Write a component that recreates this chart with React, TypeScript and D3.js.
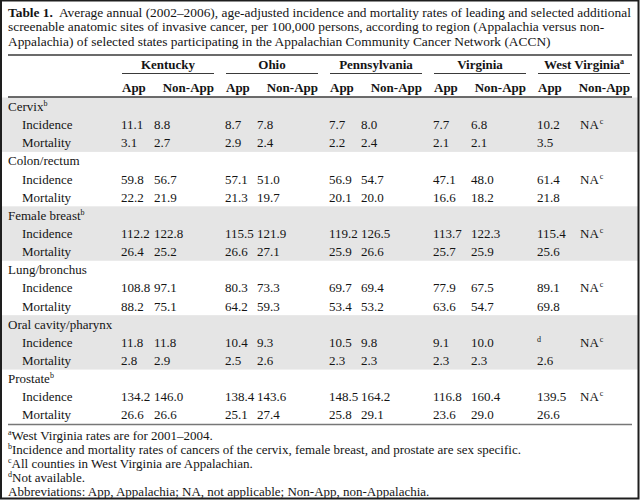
import React from "react";
import * as d3 from "d3";

const titleLines = [
  "Average annual (2002\u20132006), age-adjusted incidence and mortality rates of leading and selected additional",
  "screenable anatomic sites of invasive cancer, per 100,000 persons, according to region (Appalachia versus non-",
  "Appalachia) of selected states participating in the Appalachian Community Cancer Network (ACCN)",
];
const states = ["Kentucky", "Ohio", "Pennsylvania", "Virginia", "West Virginia"];
const stateNotes = ["", "", "", "", "a"];
const subHeads = ["App", "Non-App"];
const sites = ["Cervix", "Colon/rectum", "Female breast", "Lung/bronchus", "Oral cavity/pharynx", "Prostate"];
const siteNotes = ["b", "", "b", "", "", "b"];
const measures = ["Incidence", "Mortality"];

// values per site: [KY App, KY Non, OH App, OH Non, PA App, PA Non, VA App, VA Non, WV App, WV Non]
const incidence = [
  ["11.1", "8.8", "8.7", "7.8", "7.7", "8.0", "7.7", "6.8", "10.2", "NA|c"],
  ["59.8", "56.7", "57.1", "51.0", "56.9", "54.7", "47.1", "48.0", "61.4", "NA|c"],
  ["112.2", "122.8", "115.5", "121.9", "119.2", "126.5", "113.7", "122.3", "115.4", "NA|c"],
  ["108.8", "97.1", "80.3", "73.3", "69.7", "69.4", "77.9", "67.5", "89.1", "NA|c"],
  ["11.8", "11.8", "10.4", "9.3", "10.5", "9.8", "9.1", "10.0", "|d", "NA|c"],
  ["134.2", "146.0", "138.4", "143.6", "148.5", "164.2", "116.8", "160.4", "139.5", "NA|c"],
];
const mortality = [
  ["3.1", "2.7", "2.9", "2.4", "2.2", "2.4", "2.1", "2.1", "3.5", ""],
  ["22.2", "21.9", "21.3", "19.7", "20.1", "20.0", "16.6", "18.2", "21.8", ""],
  ["26.4", "25.2", "26.6", "27.1", "25.9", "26.6", "25.7", "25.9", "25.6", ""],
  ["88.2", "75.1", "64.2", "59.3", "53.4", "53.2", "63.6", "54.7", "69.8", ""],
  ["2.8", "2.9", "2.5", "2.6", "2.3", "2.3", "2.3", "2.3", "2.6", ""],
  ["26.6", "26.6", "25.1", "27.4", "25.8", "29.1", "23.6", "29.0", "26.6", ""],
];
const footnoteMarks = ["a", "b", "c", "d", ""];
const footnotes = [
  "West Virginia rates are for 2001\u20132004.",
  "Incidence and mortality rates of cancers of the cervix, female breast, and prostate are sex specific.",
  "All counties in West Virginia are Appalachian.",
  "Not available.",
  "Abbreviations: App, Appalachia; NA, not applicable; Non-App, non-Appalachia.",
];

const FONT = "'Liberation Serif', 'Times New Roman', serif";
const FS = 13;
const TFS = 13.4;
const INK = "#141414";
const BAND = "#e5e5e5";
const RULE = "#3a3a3a";
const nonAppOffsets = [32, 31, 31, 37, 42];

function Cell({ x, y, value }: { x: number; y: number; value: string }) {
  const [main, sup] = value.split("|");
  return (
    <text x={x} y={y} fontSize={FS} fill={INK}>
      {main}
      {sup ? (
        <tspan fontSize={8} dx={main ? 1 : 0} dy={-5}>
          {sup}
        </tspan>
      ) : null}
    </text>
  );
}

export default function App() {
  const W = 640;
  const H = 500;
  const left = 8;
  const right = 632;
  const nRows = sites.length * 3;
  const y = d3.scaleLinear().domain([0, nRows]).range([97.5, 424]);
  const rowH = y(1) - y(0);
  const sx = d3.scaleLinear().domain([0, states.length - 1]).range([122, 538]);
  const groupW = 92;
  const base = (i: number) => y(i) + rowH / 2 + 4.5;

  return (
    <svg
      width={W}
      height={H}
      style={{ position: "absolute", left: 0, top: 0, background: "#fff", fontFamily: FONT }}
      fontFamily={FONT}
    >
      <rect x={0} y={0} width={W} height={H} fill="#fff" />
      {/* bands */}
      {sites.map((s, i) =>
        i % 2 === 0 ? (
          <rect key={s} x={2} y={y(i * 3)} width={636} height={rowH * 3} fill={BAND} />
        ) : null
      )}
      {/* title */}
      {titleLines.map((t, i) => (
        <text key={i} x={left} y={16.5 + i * 14.8} fontSize={TFS} fill={INK}>
          {i === 0 ? (
            <>
              <tspan fontWeight="bold">Table 1.</tspan>
              <tspan dx={6}>{t}</tspan>
            </>
          ) : (
            t
          )}
        </text>
      ))}
      {/* rules */}
      <line x1={left} x2={right} y1={55} y2={55} stroke={RULE} strokeWidth={1.5} />
      <line x1={left} x2={right} y1={97} y2={97} stroke={RULE} strokeWidth={1.5} />
      <line x1={left} x2={right} y1={424.5} y2={424.5} stroke="#777" strokeWidth={1.5} />
      {/* state headers */}
      {states.map((s, i) => (
        <g key={s}>
          <text
            x={sx(i) + groupW / 2}
            y={68.5}
            fontSize={FS}
            fontWeight="bold"
            textAnchor="middle"
            fill={INK}
          >
            {s}
            {stateNotes[i] ? (
              <tspan fontSize={8} dy={-5}>
                {stateNotes[i]}
              </tspan>
            ) : null}
          </text>
          <line x1={sx(i)} x2={sx(i) + groupW} y1={73.5} y2={73.5} stroke={RULE} strokeWidth={1} />
          <text x={sx(i)} y={92} fontSize={FS} fontWeight="bold" fill={INK}>
            {subHeads[0]}
          </text>
          <text x={sx(i) + groupW} y={92} fontSize={FS} fontWeight="bold" textAnchor="end" fill={INK}>
            {subHeads[1]}
          </text>
        </g>
      ))}
      {/* body */}
      {sites.map((s, gi) => {
        const r0 = gi * 3;
        const rows = [incidence[gi], mortality[gi]];
        return (
          <g key={s}>
            <text x={left} y={base(r0)} fontSize={FS} fill={INK}>
              {s}
              {siteNotes[gi] ? (
                <tspan fontSize={8} dy={-5}>
                  {siteNotes[gi]}
                </tspan>
              ) : null}
            </text>
            {measures.map((m, mi) => (
              <g key={m}>
                <text x={22} y={base(r0 + 1 + mi)} fontSize={FS} fill={INK}>
                  {m}
                </text>
                {rows[mi].map((v, ci) => {
                  const st = Math.floor(ci / 2);
                  const x = ci % 2 === 0 ? sx(st) - 1 : sx(st) + nonAppOffsets[st];
                  return v ? <Cell key={ci} x={x} y={base(r0 + 1 + mi)} value={v} /> : null;
                })}
              </g>
            ))}
          </g>
        );
      })}
      {/* footnotes */}
      {footnotes.map((f, i) => (
        <text key={i} x={left} y={439.5 + i * 14} fontSize={FS} fill={INK}>
          {footnoteMarks[i] ? (
            <>
              <tspan fontSize={8} dy={-5}>
                {footnoteMarks[i]}
              </tspan>
              <tspan dy={5}>{f}</tspan>
            </>
          ) : (
            f
          )}
        </text>
      ))}
      {/* frame */}
      <rect x={1} y={0.5} width={637.5} height={498} fill="none" stroke="#1e1e1e" strokeWidth={2} />
    </svg>
  );
}
